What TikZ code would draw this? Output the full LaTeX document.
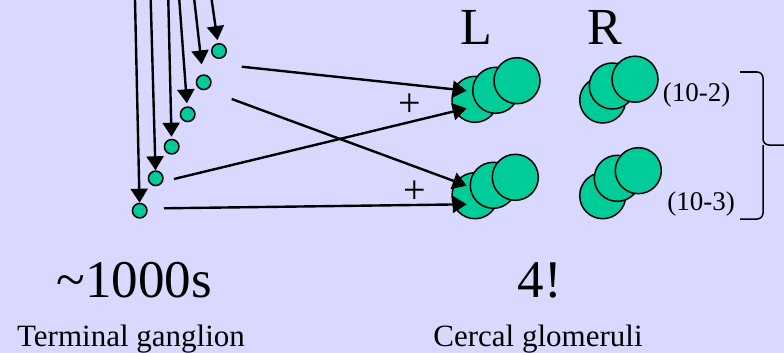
\documentclass[tikz,border=0pt]{standalone}
\usepackage{fontspec}
\setmainfont{Liberation Serif}
\usetikzlibrary{arrows.meta}
\definecolor{bgblue}{RGB}{217,217,255}
\definecolor{glomgreen}{RGB}{0,204,153}
\tikzset{
  cell/.style={circle, draw, fill=glomgreen, line width=1.5pt, minimum size=14.5pt, inner sep=0pt},
  glom/.style={circle, draw, fill=glomgreen, line width=1.5pt, minimum size=46pt, inner sep=0pt},
  axon/.style={line width=2.4pt, -{Triangle[length=14pt,width=17pt]}},
  bracket/.style={line width=1.5pt, rounded corners=6pt},
  bigtext/.style={font=\fontsize{53}{60}\selectfont, anchor=base, inner sep=0pt},
  sidetext/.style={font=\fontsize{52}{60}\selectfont, anchor=base, inner sep=0pt},
  captext/.style={font=\fontsize{31}{36}\selectfont, anchor=base, inner sep=0pt},
  gaintext/.style={font=\fontsize{27}{32}\selectfont, anchor=base, inner sep=0pt},
  plustext/.style={font=\fontsize{40}{44}\selectfont, inner sep=0pt}
}

\begin{document}
\begin{tikzpicture}[x=1pt, y=-1pt]
		\fill[bgblue] (0,0) rectangle (784,353);
		\useasboundingbox (0,0) rectangle (784,353);
		% terminal ganglion cells
		\foreach \n/\x/\y in {1/219/51, 2/203.7/82.3, 3/187.7/114.3, 4/171.7/146.7, 5/155.7/178.3, 6/139.7/210.7}
			\node[cell] (c\n) at (\x,\y) {};
		\foreach \n/\x/\gap in {1/211.7/3, 2/194.3/10, 3/179.3/3, 4/168.3/2, 5/150.7/0, 6/135/0} {
			\coordinate (top\n) at (\x,0);
			\draw[axon, shorten >=\gap pt] (top\n) -- (c\n);
		}
		% glomeruli, back to front
		\foreach \g/\x/\y in {Lt1/475/99.3, Lt2/495.7/90.3, Lt3/517/80.7,
		                      Lb1/475/195.7, Lb2/493.3/185.3, Lb3/515.3/177.3,
		                      Rt1/602.7/100, Rt2/612.3/86, Rt3/635/79.2,
		                      Rb1/602.7/195.7, Rb2/617.3/178.3, Rb3/638.3/170.7}
			\node[glom] (\g) at (\x,\y) {};
		% projections
		\coordinate (o1) at (241.7,66.7);
		\coordinate (o2) at (231.7,99);
		\coordinate (o5) at (174,179);
		\coordinate (o6) at (164,208.3);
		\coordinate (LtA) at (466.7,90.7);
		\coordinate (LtB) at (466.7,108.3);
		\coordinate (LbA) at (466.7,185.7);
		\coordinate (LbB) at (466.7,204.3);
		\draw[axon] (o1) -- (LtA);
		\draw[axon] (o5) -- (LtB);
		\draw[axon] (o2) -- (LbA);
		\draw[axon] (o6) -- (LbB);
		\node[plustext] (plusT) at (410,105.7) {+};
		\node[plustext] (plusB) at (414.3,191.7) {+};
		% labels
		\node[sidetext] (labL) at (476,45) {L};
		\node[sidetext] (labR) at (604.7,45) {R};
		\node[gaintext] (gainT) at (696.7,101.7) {(10-2)};
		\node[gaintext] (gainB) at (701,210) {(10-3)};
		\draw[bracket] (740,72) -| (763,145) -- (784,145);
		\draw[bracket] (740,219) -| (763,145);
		\node[bigtext] (countTG) at (134,297) {\textasciitilde1000s};
		\node[bigtext] (countCG) at (540,297) {4!};
		\node[captext] (capTG) at (131,346) {Terminal ganglion};
		\node[captext] (capCG) at (538,346) {Cercal glomeruli};
	\end{tikzpicture}
\end{document}
